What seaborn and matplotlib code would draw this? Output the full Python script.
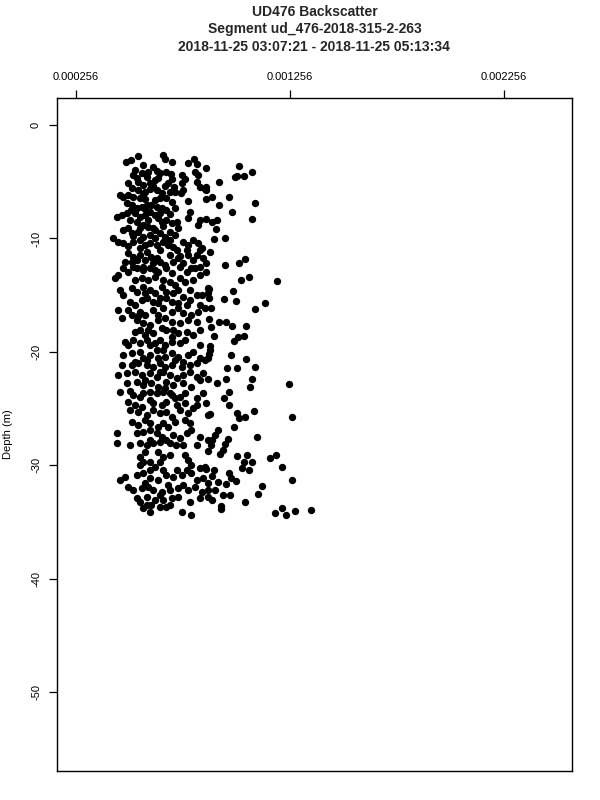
import numpy as np
import pandas as pd
import matplotlib
matplotlib.use("Agg")
import matplotlib.pyplot as plt
import seaborn as sns

TITLE = ("UD476 Backscatter\n"
         "Segment ud_476-2018-315-2-263\n"
         "2018-11-25 03:07:21 - 2018-11-25 05:13:34")
X_TICKS = [0.000256, 0.001256, 0.002256]
Y_TICKS = [0, -10, -20, -30, -40, -50]

# backscatter values are in units of 1e-6, depth in metres
bs_upper = [489, 511, 547, 661, 672, 703, 780, 808, 820, 567,
            614, 633, 648, 679, 698, 707, 524, 539, 563, 586,
            812, 827, 750, 765, 820, 687, 672, 547, 570, 602,
            625, 750, 714, 754, 745, 835, 858, 718, 516, 547,
            578, 602, 633, 656, 648, 461, 477, 524, 555, 578,
            679, 703, 780, 493, 516, 539, 563, 586, 609, 633,
            656, 679, 718, 446, 469, 493, 531, 555, 578, 602,
            625, 640, 656, 679, 703, 726, 788, 780, 835, 827,
            539, 570, 594, 617, 734, 477, 500, 516, 547, 570,
            602, 625, 648, 672, 695, 718, 430, 454, 477, 524,
            555, 578, 602, 633, 664, 687, 710, 757, 780, 804,
            827, 843, 773, 500, 524, 516, 539, 555, 586, 609,
            633, 617, 648, 672, 695, 726, 734, 757, 780, 804,
            820, 835, 850, 866, 796, 835, 539, 570, 679]
depth_upper = [-3.23, -3.08, -2.73, -2.64, -3.02, -3.23, -3.32, -3.02, -3.43, -3.52,
               -3.73, -4.03, -4.26, -4.11, -4.34, -4.78, -4.41, -4.70, -4.26, -4.61,
               -4.11, -4.41, -4.41, -4.78, -4.99, -5.08, -5.38, -4.99, -5.29, -5.08,
               -4.85, -5.08, -5.44, -5.73, -5.97, -5.44, -5.67, -5.88, -5.58, -5.73,
               -5.88, -5.67, -5.73, -6.02, -6.46, -6.17, -6.37, -6.32, -6.46, -6.55,
               -6.46, -6.76, -6.70, -6.90, -7.05, -7.34, -7.20, -7.05, -7.05, -7.20,
               -7.34, -7.49, -7.34, -8.08, -7.93, -7.78, -7.78, -8.08, -7.93, -7.64,
               -7.93, -8.22, -8.52, -8.37, -8.66, -8.52, -7.64, -8.22, -8.37, -8.81,
               -8.52, -8.81, -8.96, -9.11, -9.11, -9.26, -9.11, -9.55, -9.41, -9.85,
               -9.70, -9.99, -9.55, -9.85, -9.41, -9.70, -9.99, -10.29, -10.43, -10.29,
               -10.14, -10.58, -10.43, -10.58, -10.29, -10.58, -10.73, -10.29, -10.58, -10.14,
               -10.43, -10.87, -11.02, -11.31, -11.61, -12.05, -11.90, -11.46, -11.17, -11.61,
               -11.75, -12.19, -12.05, -12.34, -11.46, -11.02, -11.75, -12.19, -11.46, -11.90,
               -11.46, -11.02, -11.75, -12.19, -12.63, -12.49, -12.63, -12.49, -12.63]

bs_middle = [477, 500, 524, 570, 602, 640, 703, 742, 773, 812,
             835, 866, 438, 454, 563, 594, 625, 664, 695, 742,
             765, 804, 461, 477, 516, 539, 570, 602, 625, 656,
             679, 710, 734, 757, 788, 820, 843, 508, 531, 563,
             586, 617, 640, 679, 703, 734, 773, 788, 835, 858,
             454, 500, 516, 555, 578, 617, 664, 703, 734, 757,
             796, 827, 469, 539, 570, 602, 640, 672, 703, 742,
             780, 820, 555, 578, 617, 656, 679, 703, 734, 773,
             804, 835, 485, 500, 524, 555, 586, 625, 648, 672,
             703, 742, 765, 835, 477, 516, 555, 570, 602, 633,
             640, 672, 703, 734, 757, 780, 804, 835, 858, 469,
             516, 547, 586, 617, 648, 672, 703, 750, 788, 820,
             454, 493, 531, 563, 602, 633, 664, 695, 726, 757,
             788, 820, 850, 493, 539, 570, 609, 640, 679, 710,
             757, 796, 835, 461, 508, 570, 633, 695, 765]
depth_middle = [-12.63, -12.93, -12.49, -12.78, -12.58, -12.93, -13.08, -12.49, -12.93, -12.63,
                -13.23, -12.93, -13.52, -13.23, -13.52, -13.67, -13.37, -13.67, -13.82, -13.52,
                -13.82, -13.67, -14.55, -14.99, -14.40, -14.70, -14.26, -14.55, -14.84, -14.26,
                -14.70, -14.84, -14.55, -15.14, -14.55, -14.99, -14.99, -15.58, -15.87, -15.43,
                -15.28, -15.58, -15.72, -15.28, -15.58, -15.72, -15.87, -15.43, -15.87, -16.16,
                -16.31, -16.31, -16.75, -16.46, -16.75, -16.31, -16.16, -16.46, -16.16, -16.60,
                -16.75, -16.46, -17.04, -17.19, -17.49, -17.64, -17.19, -17.04, -17.34, -17.49,
                -17.19, -17.34, -18.08, -18.52, -18.37, -17.93, -18.08, -18.67, -18.37, -18.23,
                -18.52, -18.08, -19.11, -19.40, -18.96, -19.25, -18.96, -19.25, -18.96, -19.40,
                -19.11, -19.25, -18.96, -19.40, -20.28, -20.13, -19.99, -20.57, -20.28, -19.84,
                -20.57, -20.43, -20.13, -20.43, -20.87, -20.28, -19.99, -20.57, -20.72, -21.16,
                -21.16, -21.01, -21.16, -21.31, -21.01, -21.31, -21.16, -21.31, -21.16, -21.01,
                -22.05, -21.90, -21.75, -22.05, -21.90, -22.19, -21.75, -22.05, -22.34, -22.05,
                -21.75, -22.19, -21.90, -22.78, -22.64, -22.93, -22.78, -23.08, -22.64, -22.93,
                -22.78, -23.08, -22.49, -23.52, -23.46, -23.66, -23.66, -23.66, -23.66]

bs_lower = [524, 555, 602, 664, 703, 742, 820, 850, 500, 531,
            563, 617, 656, 679, 726, 765, 820, 866, 508, 547,
            586, 617, 648, 679, 703, 742, 780, 804, 516, 547,
            602, 640, 664, 718, 765, 788, 874, 446, 446, 508,
            539, 570, 602, 633, 656, 679, 710, 742, 773, 796,
            835, 874, 555, 586, 617, 648, 695, 757, 820, 640,
            664, 648, 625, 570, 555, 602, 765, 780, 796, 773,
            726, 835, 858, 602, 461, 485, 500, 539, 570, 602,
            640, 679, 710, 750, 796, 820, 850, 524, 563, 594,
            617, 656, 695, 734, 757, 780, 812, 843, 874, 539,
            586, 625, 664, 703, 734, 788, 835, 570, 609, 648,
            679, 695, 750, 796, 586]
depth_lower = [-23.81, -23.96, -23.52, -23.52, -23.81, -23.96, -24.10, -23.66, -24.40, -24.69,
               -24.84, -24.54, -24.69, -24.40, -24.69, -24.54, -24.69, -24.54, -25.13, -25.28,
               -25.57, -25.13, -25.43, -25.28, -25.72, -25.13, -25.43, -24.98, -26.16, -26.46,
               -26.31, -26.60, -26.31, -26.16, -26.01, -26.31, -25.57, -27.13, -28.02, -28.22,
               -27.19, -27.05, -26.90, -27.19, -27.49, -27.78, -27.34, -27.63, -27.19, -26.90,
               -27.49, -27.78, -28.07, -28.22, -28.07, -27.93, -28.07, -28.22, -28.22, -28.81,
               -29.25, -29.69, -30.13, -29.69, -29.25, -29.69, -29.10, -29.54, -29.98, -30.42,
               -30.42, -30.27, -30.13, -30.42, -31.31, -31.01, -31.90, -30.87, -30.72, -31.16,
               -31.31, -30.87, -31.01, -30.87, -30.72, -31.31, -31.16, -32.19, -32.04, -31.90,
               -32.19, -32.34, -32.19, -32.04, -31.75, -32.19, -31.90, -32.34, -32.19, -32.92,
               -32.78, -33.07, -33.07, -32.92, -32.78, -33.22, -32.92, -33.81, -33.51, -33.66,
               -33.66, -33.51, -34.10, -34.39, -33.51]

# points hidden inside the densest black patches of the core
bs_core = [531, 592, 639, 499, 616, 569, 499, 625, 695, 513,
           578, 648, 695, 508, 592, 662, 555, 522, 625, 695,
           499, 555, 648, 742, 578, 485, 709, 625, 531, 718,
           578, 648, 545, 639, 592, 709, 531, 602, 662, 587,
           718, 531, 648, 578, 672, 602, 718, 578, 686, 602,
           723, 578, 695, 555, 662, 578, 686, 648, 555, 602]
depth_core = [-3.97, -4.12, -4.64, -5.11, -5.38, -6.08, -6.17, -6.61, -5.90, -7.49,
              -7.40, -7.76, -7.85, -8.37, -8.37, -8.90, -9.08, -9.79, -9.26, -10.14,
              -10.67, -10.84, -11.02, -11.55, -11.90, -12.08, -12.08, -12.78, -13.67, -14.11,
              -14.81, -15.25, -16.84, -16.75, -18.08, -18.08, -18.25, -19.40, -19.84, -20.72,
              -20.72, -20.90, -21.78, -22.49, -23.19, -24.25, -24.07, -26.01, -26.63, -27.78,
              -28.22, -28.84, -29.10, -29.98, -30.42, -31.57, -31.75, -32.63, -33.25, -34.13]

bs_right = [866, 1019, 999, 1011, 1042, 1078, 924, 866, 866, 866,
            894, 972, 924, 1093, 986, 1078, 866, 890, 916, 910,
            900, 952, 882, 952, 1020, 1045, 1027, 1063, 1198, 871,
            880, 871, 991, 880, 947, 1006, 1140, 1092, 885, 877,
            924, 956, 885, 986, 1053, 902, 1014, 1042, 995, 883,
            883, 877, 874, 980, 1049, 964, 1011, 1095, 871, 913,
            956, 1077, 1251, 1069, 972, 949, 971, 882, 1009, 1019,
            1045, 1087, 1266, 994, 918, 905, 890, 886, 874, 967,
            952, 944, 928, 1103, 1009, 1055, 1163, 1193, 1041, 1030,
            1081, 1219, 1064, 866, 902, 971, 983, 1006, 890, 1266,
            921, 874, 956, 1126, 905, 1107, 944, 975, 874, 890,
            933, 933, 1045, 1185, 1221, 1240, 1279, 1357]
depth_right = [-3.82, -3.59, -4.56, -4.47, -4.47, -4.17, -5.00, -5.44, -5.73, -6.55,
               -6.32, -6.38, -7.03, -6.85, -7.70, -8.26, -8.29, -8.58, -8.38, -9.20,
               -10.03, -9.94, -11.17, -12.37, -12.14, -11.85, -13.64, -13.38, -13.76, -14.40,
               -14.46, -14.84, -14.64, -15.23, -15.37, -15.52, -15.67, -16.23, -16.17, -17.14,
               -17.35, -17.35, -17.79, -17.73, -17.73, -18.61, -18.67, -18.58, -19.02, -19.49,
               -19.84, -20.22, -20.52, -20.29, -20.64, -21.41, -21.46, -21.32, -22.43, -22.78,
               -22.38, -22.38, -22.84, -23.08, -23.52, -24.08, -24.70, -25.49, -25.38, -25.82,
               -25.73, -25.20, -25.77, -26.61, -26.90, -27.34, -27.78, -28.22, -28.73, -27.72,
               -28.16, -28.67, -29.02, -27.55, -29.19, -29.11, -29.37, -29.08, -29.75, -30.23,
               -29.70, -30.14, -30.43, -30.34, -30.43, -30.67, -31.16, -31.37, -30.93, -31.31,
               -31.46, -31.60, -31.69, -31.84, -32.19, -32.55, -32.63, -32.63, -32.78, -33.08,
               -33.60, -33.89, -33.22, -34.25, -33.81, -34.40, -34.02, -33.96]

bs_all = bs_upper + bs_middle + bs_lower + bs_core + bs_right
depth_all = depth_upper + depth_middle + depth_lower + depth_core + depth_right
df = pd.DataFrame({"backscatter": np.array(bs_all) * 1e-6, "depth": depth_all})

sns.set_theme(style="ticks")
plt.rcParams['font.family'] = ['Liberation Sans', 'DejaVu Sans']

fig = plt.figure(figsize=(6, 8), dpi=100)
ax = fig.add_axes([0.095, 0.03625, 0.858, 0.84125])
sns.scatterplot(data=df, x="backscatter", y="depth", color="black", s=28,
                linewidth=0, ax=ax, legend=False)

ax.set_xlim(0.0001672, 0.002574)
ax.set_ylim(-56.97, 2.39)
ax.xaxis.tick_top()
ax.set_xticks(X_TICKS)
ax.set_xticklabels([f"{v:.6f}" for v in X_TICKS])
ax.set_yticks(Y_TICKS)
ax.set_yticklabels([str(v) for v in Y_TICKS], rotation=90, va="center")
ax.tick_params(length=5.5, width=0.9, color="black", labelsize=8, pad=6, labelcolor="black")
for sp in ax.spines.values():
    sp.set_visible(True)
    sp.set_color("black")
    sp.set_linewidth(1.0)

ax.set_xlabel("")
ax.set_ylabel("Depth (m)", fontsize=8, color="black")
ax.yaxis.set_label_coords(-0.085, 0.5)
ax.set_title(TITLE, fontsize=10, fontweight="bold", pad=34, linespacing=1.32)

fig.savefig("out.png", dpi=100, facecolor="white")
